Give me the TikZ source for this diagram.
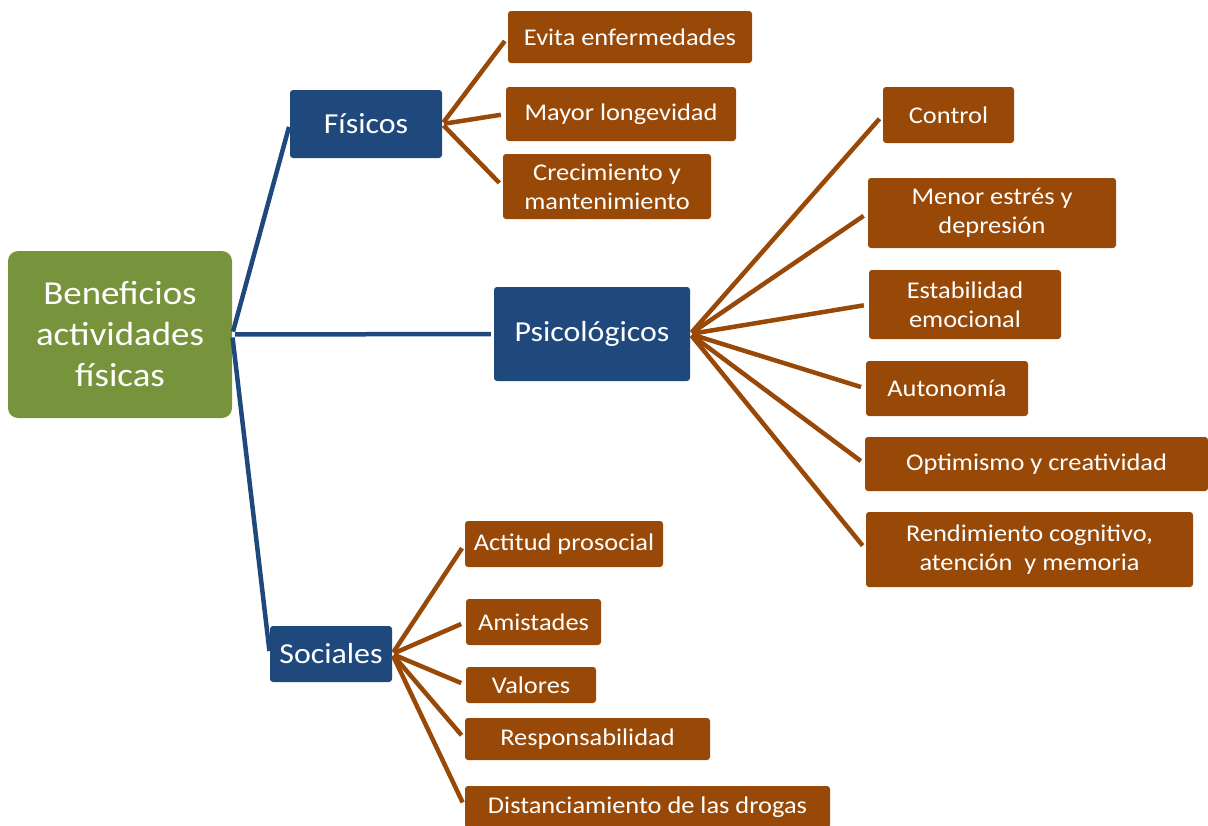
\documentclass[tikz,border=0pt]{standalone}
\usepackage{fontspec}
\setmainfont{Carlito}[FakeStretch=1.1]
\definecolor{grn}{HTML}{77933C}
\definecolor{blu}{HTML}{1F497D}
\definecolor{brn}{HTML}{984807}
\tikzset{
  basebox/.style={rounded corners=3pt, text=white, align=center, inner sep=0pt},
  rootbox/.style={basebox, rounded corners=10pt, fill=grn, font=\fontsize{33.5}{41}\selectfont},
  bluebox/.style={basebox, fill=blu, font=\fontsize{29}{34}\selectfont},
  brownbox/.style={basebox, fill=brn, font=\fontsize{24}{29}\selectfont},
  blueline/.style={draw=blu, line width=4.5pt, shorten <=3pt, shorten >=3pt},
  brownline/.style={draw=brn, line width=4.5pt, shorten <=2pt, shorten >=5pt},
}
\begin{document}
\begin{tikzpicture}[x=1pt,y=-1pt]
\useasboundingbox (0,0) rectangle (1208,825);
\node[rootbox, minimum width=224pt, minimum height=167pt] (root) at (120,334.5) {Beneficios\\actividades\\físicas};
\node[bluebox, minimum width=152pt, minimum height=68pt] (fis) at (366,124) {Físicos};
\node[bluebox, minimum width=196pt, minimum height=94pt] (psi) at (592,334) {Psicológicos};
\node[bluebox, minimum width=122pt, minimum height=56pt] (soc) at (331,654) {Sociales};
% Fisicos
\node[brownbox, minimum width=244pt, minimum height=52pt] (e1) at (630,37) {Evita enfermedades};
\node[brownbox, minimum width=230pt, minimum height=54pt] (e2) at (621,114) {Mayor longevidad};
\node[brownbox, minimum width=208pt, minimum height=65pt] (e3) at (607,186.5) {Crecimiento y\\mantenimiento};
% Psicologicos
\node[brownbox, minimum width=131pt, minimum height=56pt] (p1) at (948.5,115) {Control};
\node[brownbox, minimum width=248pt, minimum height=70pt] (p2) at (992,213) {Menor estrés y\\depresión};
\node[brownbox, minimum width=192pt, minimum height=69pt] (p3) at (965,304.5) {Estabilidad\\emocional};
\node[brownbox, minimum width=162pt, minimum height=55pt] (p4) at (947,388.5) {Autonomía};
\node[brownbox, minimum width=343pt, minimum height=54pt] (p5) at (1036.5,464) {Optimismo y creatividad};
\node[brownbox, minimum width=327pt, minimum height=75pt] (p6) at (1029.5,549.5) {Rendimiento cognitivo,\\atención\ \ y memoria};
% Sociales
\node[brownbox, minimum width=198pt, minimum height=46pt] (s1) at (564,544) {Actitud prosocial};
\node[brownbox, minimum width=135pt, minimum height=46pt] (s2) at (533.5,622) {Amistades};
\node[brownbox, minimum width=130pt, minimum height=36pt] (s3) at (531,685) {Valores};
\node[brownbox, minimum width=245pt, minimum height=42pt] (s4) at (587.5,739) {Responsabilidad};
\node[brownbox, minimum width=365pt, minimum height=42pt] (s5) at (647.5,807) {Distanciamiento de las drogas};
% connectors
\draw[blueline] (root.east) -- (fis.west);
\draw[blueline] (root.east) -- (psi.west);
\draw[blueline] (root.east) -- (soc.west);
\foreach \t in {e1,e2,e3} \draw[brownline] (fis.east) -- (\t.west);
\foreach \t in {p1,p2,p3,p4,p5,p6} \draw[brownline] (psi.east) -- (\t.west);
\foreach \t in {s1,s2,s3,s4,s5} \draw[brownline] (soc.east) -- (\t.west);
\end{tikzpicture}
\end{document}
